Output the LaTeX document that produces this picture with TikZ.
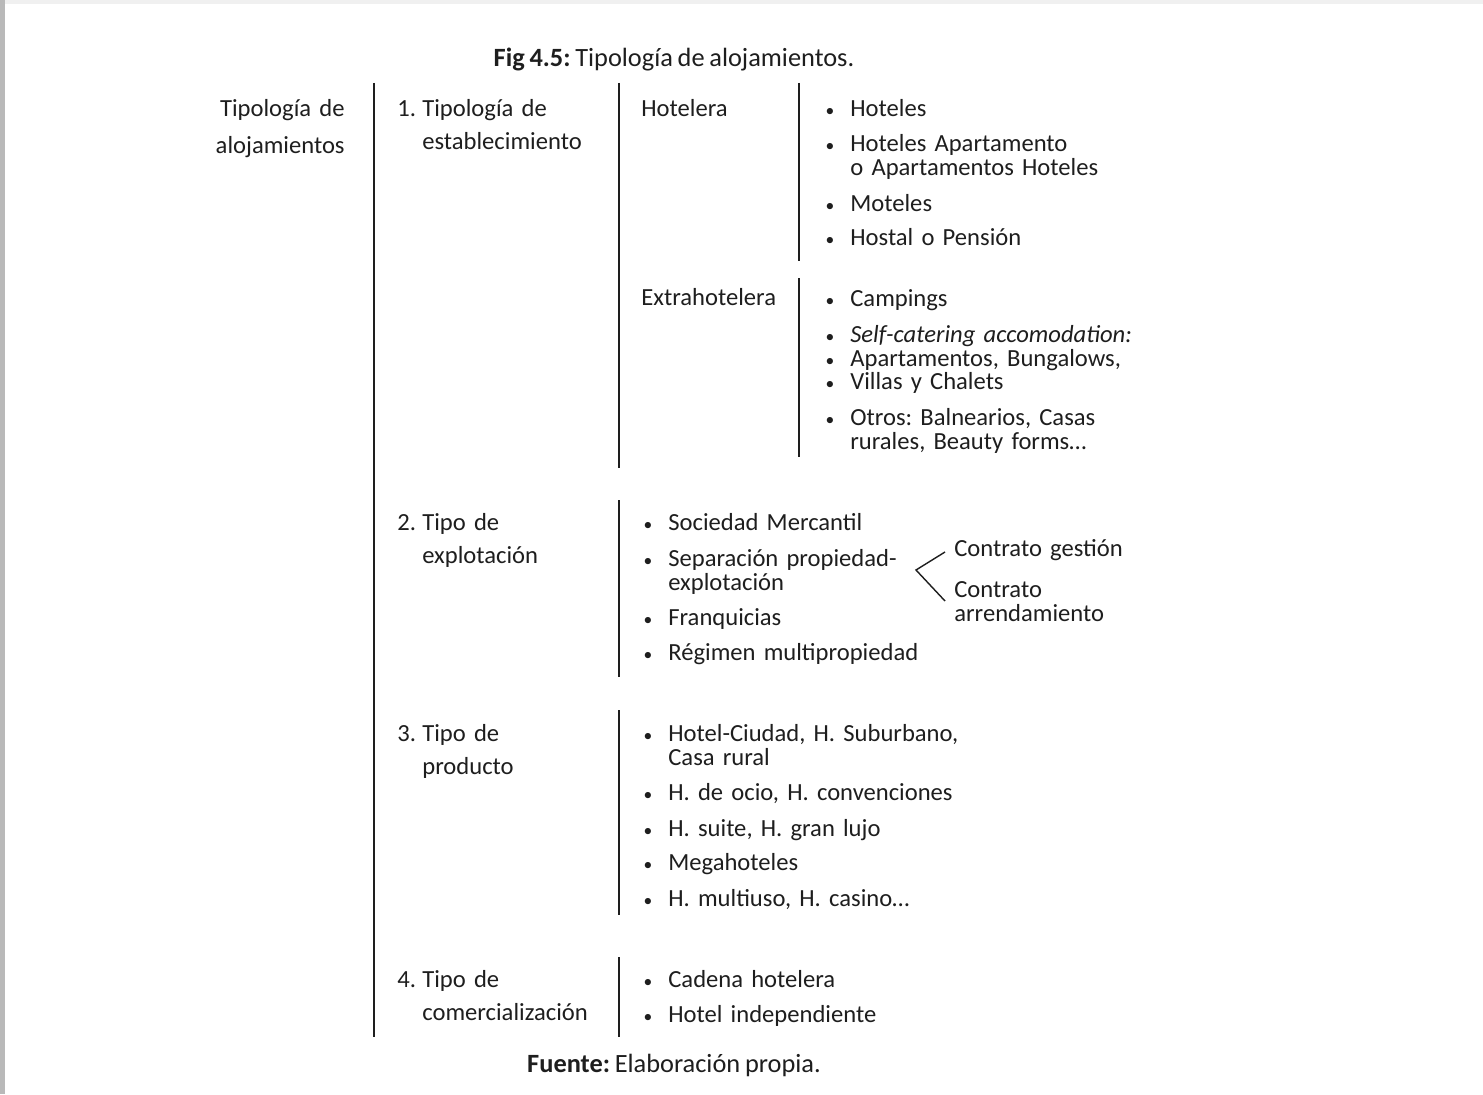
\documentclass[tikz,border=0pt]{standalone}
\usepackage{fontspec}
\setmainfont{Carlito}[WordSpace=0.8]
\usepackage{tikz}
\usetikzlibrary{positioning, calc}
\definecolor{ink}{HTML}{1E1E1E}
\frenchspacing

\begin{document}
\begin{tikzpicture}[
  x=0.2mm, y=-0.2mm,
  txt/.style={anchor=mid west, inner sep=0pt, text=ink, yshift=-0.8mm,
              font=\fontsize{14}{13.6}\selectfont},
  item/.style={txt, text width=80mm, align=left},
  head/.style={txt, text width=40mm, align=left,
               font=\fontsize{14}{19}\selectfont},
  figcap/.style={txt, anchor=mid, font=\fontsize{15}{15}\selectfont},
  blt/.style={txt, anchor=mid, yshift=0.8mm, font=\fontsize{10}{10}\selectfont},
  rule/.style={draw=ink, line width=1.1pt},
  brk/.style={draw=ink, line width=0.8pt}
]
\useasboundingbox (0,0) rectangle (1483,1094);
\fill[white] (0,0) rectangle (1483,1094);
\fill[gray!55] (0,0) rectangle (5,1094);
\fill[gray!12] (5,0) rectangle (1483,4);

%% Title and source
\node[figcap] (title) at (674,58) {\textbf{Fig 4.5:} Tipología de alojamientos.};
\node[figcap] (src) at (674,1064) {\textbf{Fuente:} Elaboración propia.};

%% Root
\node[txt, anchor=mid east, text width=26mm, align=right,
      font=\fontsize{14}{21}\selectfont] (root) at (345,108) {Tipología de\\alojamientos};

%% Separators
\foreach \x/\a/\b in {374/83/1037, 619/83/468, 619/500/677, 619/710/915,
                      619/957/1037, 799/83/261, 799/278/457}{
  \draw[rule] (\x,\a) -- (\x,\b);}

%% 1. Tipologia de establecimiento
\node[txt] (n1) at (397,108) {1.};
\node[head] (t1) at (422,108) {Tipología de\\establecimiento};
\node[txt] (hot) at (641,108) {Hotelera};
\node[txt] (ext) at (641,297) {Extrahotelera};
\node[item] (h1) at (850,108) {Hoteles};
\node[item] (h2) at (850,143) {Hoteles Apartamento\\o Apartamentos Hoteles};
\node[item] (h3) at (850,203) {Moteles};
\node[item] (h4) at (850,237) {Hostal o Pensión};
\node[item] (e1) at (850,298) {Campings};
\node[item] (e2) at (850,334) {\textit{Self-catering accomodation:}};
\node[item] (e3) at (850,358) {Apartamentos, Bungalows,};
\node[item] (e4) at (850,381) {Villas y Chalets};
\node[item] (e5) at (850,417) {Otros: Balnearios, Casas\\rurales, Beauty forms\ldots};

%% 2. Tipo de explotacion
\node[txt] (n2) at (397,522) {2.};
\node[head] (t2) at (422,522) {Tipo de\\explotación};
\node[item] (x1) at (668,522) {Sociedad Mercantil};
\node[item, text width=48mm] (x2) at (668,558) {Separación propiedad-\\explotación};
\node[item] (x3) at (668,617) {Franquicias};
\node[item] (x4) at (668,652) {Régimen multipropiedad};
\node[item, text width=40mm] (cg) at (954,548) {Contrato gestión};
\node[item, text width=40mm] (ca) at (954,589) {Contrato\\arrendamiento};
\coordinate (apex) at (916,570);
\draw[brk] ([xshift=-1.8mm]cg.mid west) -- (apex) -- ([shift={(-1.8mm,-1.6mm)}]ca.mid west);

%% 3. Tipo de producto
\node[txt] (n3) at (397,733) {3.};
\node[head] (t3) at (422,733) {Tipo de\\producto};
\node[item] (p1) at (668,733) {Hotel-Ciudad, H. Suburbano,\\Casa rural};
\node[item] (p2) at (668,792) {H. de ocio, H. convenciones};
\node[item] (p3) at (668,828) {H. suite, H. gran lujo};
\node[item] (p4) at (668,862) {Megahoteles};
\node[item] (p5) at (668,898) {H. multiuso, H. casino\ldots};

%% 4. Tipo de comercializacion
\node[txt] (n4) at (397,979) {4.};
\node[head] (t4) at (422,979) {Tipo de\\comercialización};
\node[item] (c1) at (668,979) {Cadena hotelera};
\node[item] (c2) at (668,1014) {Hotel independiente};

%% Bullets
\foreach \n in {h1,h2,h3,h4,e1,e2,e3,e4,e5,x1,x2,x3,x4,p1,p2,p3,p4,p5,c1,c2}{
  \node[blt] (b\n) at ([xshift=-4mm]\n.mid west) {•};}
\end{tikzpicture}
\end{document}
